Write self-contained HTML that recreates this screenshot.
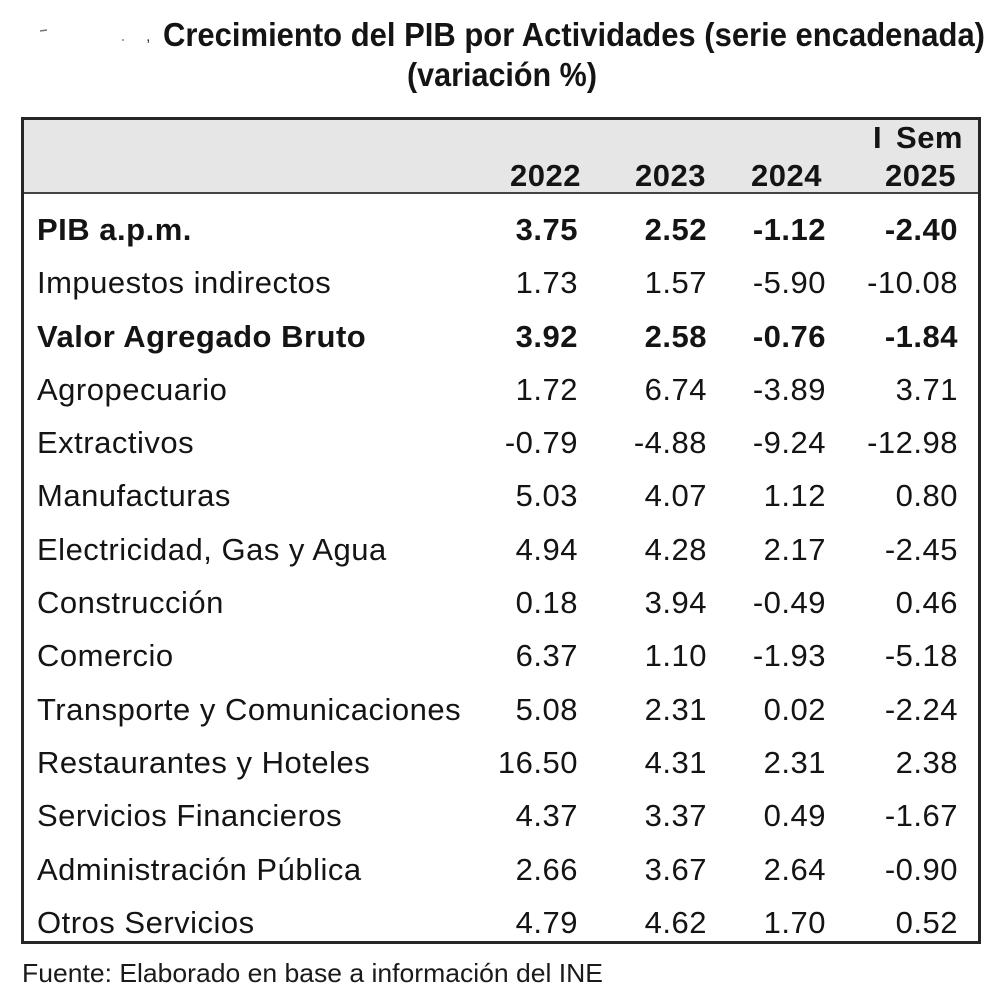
<!DOCTYPE html>
<html>
<head>
<meta charset="utf-8">
<style>
  html,body{margin:0;padding:0;background:#fff;}
  body{width:1000px;height:1000px;overflow:hidden;}
  svg{display:block;}
  .t{font-family:"Liberation Sans",Arial,sans-serif;font-size:31px;fill:#141414;letter-spacing:0.5px;}
  .b{font-weight:bold;}
</style>
</head>
<body>
<svg width="1000" height="1000" viewBox="0 0 1000 1000" xmlns="http://www.w3.org/2000/svg">
  <rect x="0" y="0" width="1000" height="1000" fill="#ffffff"/>

  <!-- smudge marks -->
  <line x1="40" y1="31" x2="47" y2="30" stroke="#777" stroke-width="1.5"/>
  <circle cx="123" cy="40" r="1" fill="#888"/>
  <text x="146" y="41" font-family="Liberation Sans, sans-serif" font-size="16" fill="#333">,</text>

  <!-- Title -->
  <text x="163" y="46" font-family="Liberation Sans, Arial, sans-serif" font-weight="bold" font-size="33" fill="#141414" textLength="822" lengthAdjust="spacingAndGlyphs">Crecimiento del PIB por Actividades (serie encadenada)</text>
  <text x="407" y="86" font-family="Liberation Sans, Arial, sans-serif" font-weight="bold" font-size="33" fill="#141414" textLength="190" lengthAdjust="spacingAndGlyphs">(variación %)</text>

  <!-- Table box -->
  <rect x="22" y="118" width="958" height="75" fill="#e6e6e6"/>
  <line x1="22" y1="193" x2="980" y2="193" stroke="#444" stroke-width="2"/>
  <rect x="22.5" y="118.5" width="957" height="824" fill="none" stroke="#262626" stroke-width="3"/>

  <!-- Header -->
  <text class="t b" x="873" y="148">I</text>
  <text class="t b" x="963" y="148" text-anchor="end">Sem</text>
  <text class="t b" x="581" y="186" text-anchor="end">2022</text>
  <text class="t b" x="706" y="186" text-anchor="end">2023</text>
  <text class="t b" x="822" y="186" text-anchor="end">2024</text>
  <text class="t b" x="956" y="186" text-anchor="end">2025</text>

  <!-- Rows -->
  <g class="t">
    <text class="t b" x="37" y="240">PIB a.p.m.</text>
    <text class="t b" x="578" y="240" text-anchor="end">3.75</text>
    <text class="t b" x="707" y="240" text-anchor="end">2.52</text>
    <text class="t b" x="826" y="240" text-anchor="end">-1.12</text>
    <text class="t b" x="958" y="240" text-anchor="end">-2.40</text>

    <text class="t" x="37" y="293">Impuestos indirectos</text>
    <text class="t" x="578" y="293" text-anchor="end">1.73</text>
    <text class="t" x="707" y="293" text-anchor="end">1.57</text>
    <text class="t" x="826" y="293" text-anchor="end">-5.90</text>
    <text class="t" x="958" y="293" text-anchor="end">-10.08</text>

    <text class="t b" x="37" y="347">Valor Agregado Bruto</text>
    <text class="t b" x="578" y="347" text-anchor="end">3.92</text>
    <text class="t b" x="707" y="347" text-anchor="end">2.58</text>
    <text class="t b" x="826" y="347" text-anchor="end">-0.76</text>
    <text class="t b" x="958" y="347" text-anchor="end">-1.84</text>

    <text class="t" x="37" y="400">Agropecuario</text>
    <text class="t" x="578" y="400" text-anchor="end">1.72</text>
    <text class="t" x="707" y="400" text-anchor="end">6.74</text>
    <text class="t" x="826" y="400" text-anchor="end">-3.89</text>
    <text class="t" x="958" y="400" text-anchor="end">3.71</text>

    <text class="t" x="37" y="453">Extractivos</text>
    <text class="t" x="578" y="453" text-anchor="end">-0.79</text>
    <text class="t" x="707" y="453" text-anchor="end">-4.88</text>
    <text class="t" x="826" y="453" text-anchor="end">-9.24</text>
    <text class="t" x="958" y="453" text-anchor="end">-12.98</text>

    <text class="t" x="37" y="506">Manufacturas</text>
    <text class="t" x="578" y="506" text-anchor="end">5.03</text>
    <text class="t" x="707" y="506" text-anchor="end">4.07</text>
    <text class="t" x="826" y="506" text-anchor="end">1.12</text>
    <text class="t" x="958" y="506" text-anchor="end">0.80</text>

    <text class="t" x="37" y="560">Electricidad, Gas y Agua</text>
    <text class="t" x="578" y="560" text-anchor="end">4.94</text>
    <text class="t" x="707" y="560" text-anchor="end">4.28</text>
    <text class="t" x="826" y="560" text-anchor="end">2.17</text>
    <text class="t" x="958" y="560" text-anchor="end">-2.45</text>

    <text class="t" x="37" y="613">Construcción</text>
    <text class="t" x="578" y="613" text-anchor="end">0.18</text>
    <text class="t" x="707" y="613" text-anchor="end">3.94</text>
    <text class="t" x="826" y="613" text-anchor="end">-0.49</text>
    <text class="t" x="958" y="613" text-anchor="end">0.46</text>

    <text class="t" x="37" y="666">Comercio</text>
    <text class="t" x="578" y="666" text-anchor="end">6.37</text>
    <text class="t" x="707" y="666" text-anchor="end">1.10</text>
    <text class="t" x="826" y="666" text-anchor="end">-1.93</text>
    <text class="t" x="958" y="666" text-anchor="end">-5.18</text>

    <text class="t" x="37" y="720">Transporte y Comunicaciones</text>
    <text class="t" x="578" y="720" text-anchor="end">5.08</text>
    <text class="t" x="707" y="720" text-anchor="end">2.31</text>
    <text class="t" x="826" y="720" text-anchor="end">0.02</text>
    <text class="t" x="958" y="720" text-anchor="end">-2.24</text>

    <text class="t" x="37" y="773">Restaurantes y Hoteles</text>
    <text class="t" x="578" y="773" text-anchor="end">16.50</text>
    <text class="t" x="707" y="773" text-anchor="end">4.31</text>
    <text class="t" x="826" y="773" text-anchor="end">2.31</text>
    <text class="t" x="958" y="773" text-anchor="end">2.38</text>

    <text class="t" x="37" y="826">Servicios Financieros</text>
    <text class="t" x="578" y="826" text-anchor="end">4.37</text>
    <text class="t" x="707" y="826" text-anchor="end">3.37</text>
    <text class="t" x="826" y="826" text-anchor="end">0.49</text>
    <text class="t" x="958" y="826" text-anchor="end">-1.67</text>

    <text class="t" x="37" y="880">Administración Pública</text>
    <text class="t" x="578" y="880" text-anchor="end">2.66</text>
    <text class="t" x="707" y="880" text-anchor="end">3.67</text>
    <text class="t" x="826" y="880" text-anchor="end">2.64</text>
    <text class="t" x="958" y="880" text-anchor="end">-0.90</text>

    <text class="t" x="37" y="933">Otros Servicios</text>
    <text class="t" x="578" y="933" text-anchor="end">4.79</text>
    <text class="t" x="707" y="933" text-anchor="end">4.62</text>
    <text class="t" x="826" y="933" text-anchor="end">1.70</text>
    <text class="t" x="958" y="933" text-anchor="end">0.52</text>
  </g>

  <!-- Footer -->
  <text x="22" y="982" font-family="Liberation Sans, Arial, sans-serif" font-size="26" fill="#1a1a1a" textLength="581" lengthAdjust="spacingAndGlyphs">Fuente: Elaborado en base a información del INE</text>
</svg>
</body>
</html>
